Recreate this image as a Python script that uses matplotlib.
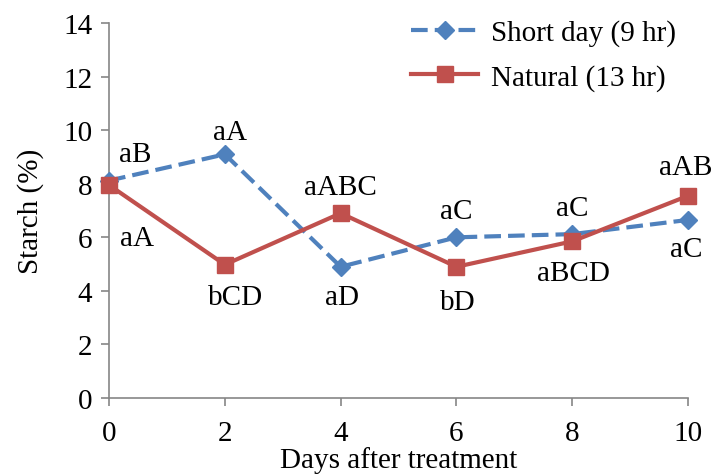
import matplotlib
import matplotlib.pyplot as plt

matplotlib.use("Agg")

days = [0, 2, 4, 6, 8, 10]
short_day = [8.12, 9.1, 4.9, 6.0, 6.12, 6.65]
natural = [7.95, 4.98, 6.9, 4.9, 5.85, 7.55]
short_labels = ["aB", "aA", "aD", "aC", "aC", "aC"]
natural_labels = ["aA", "bCD", "aABC", "bD", "aBCD", "aAB"]

BLUE = "#4F81BD"
RED = "#C0504D"
GRID = "#868686"

plt.rcParams["font.family"] = ["Liberation Serif", "DejaVu Serif"]
plt.rcParams["font.size"] = 21

fig = plt.figure(figsize=(7.13, 4.77), dpi=100)
ax = fig.add_axes([0.153, 0.1635, 0.812, 0.786])

ax.plot(days, short_day, color=BLUE, lw=3, ls=(0, (4, 1.7)), marker="D",
        markersize=9, label="Short day (9 hr)", clip_on=False, zorder=3)
ax.plot(days, natural, color=RED, lw=3, marker="s",
        markersize=12, label="Natural (13 hr)", clip_on=False, zorder=4)

# letter groups, offsets in points from each marker
short_off = [(19, 19), (4, 16), (1, -22), (0, 19), (0, 19), (-1, -21)]
nat_off = [(20, -38), (8, -23), (0, 19), (1, -25), (1, -23), (-2, 21)]
for x, y, s, o in zip(days, short_day, short_labels, short_off):
    ax.annotate(s, (x, y), xytext=o, textcoords="offset points",
                ha="center", va="center")
for x, y, s, o in zip(days, natural, natural_labels, nat_off):
    ax.annotate(s, (x, y), xytext=o, textcoords="offset points",
                ha="center", va="center")

ax.set_xlim(0, 10)
ax.set_ylim(0, 14)
ax.set_xticks(days)
ax.set_yticks(range(0, 15, 2))
ax.spines[["top", "right"]].set_visible(False)
for sp in ("left", "bottom"):
    ax.spines[sp].set_color(GRID)
    ax.spines[sp].set_linewidth(1.2)
ax.tick_params(axis="x", color=GRID, width=1.2, length=6, pad=10)
ax.tick_params(axis="y", color=GRID, width=1.2, length=6, pad=6)
ax.set_xlabel("Days after treatment", labelpad=0)
ax.set_ylabel("Starch (%)", labelpad=14)

ax.legend(loc="upper right", bbox_to_anchor=(1.025, 1.08), frameon=False,
          handlelength=2.3, handletextpad=0.45, labelspacing=0.6)

fig.savefig("out.png", dpi=100)
